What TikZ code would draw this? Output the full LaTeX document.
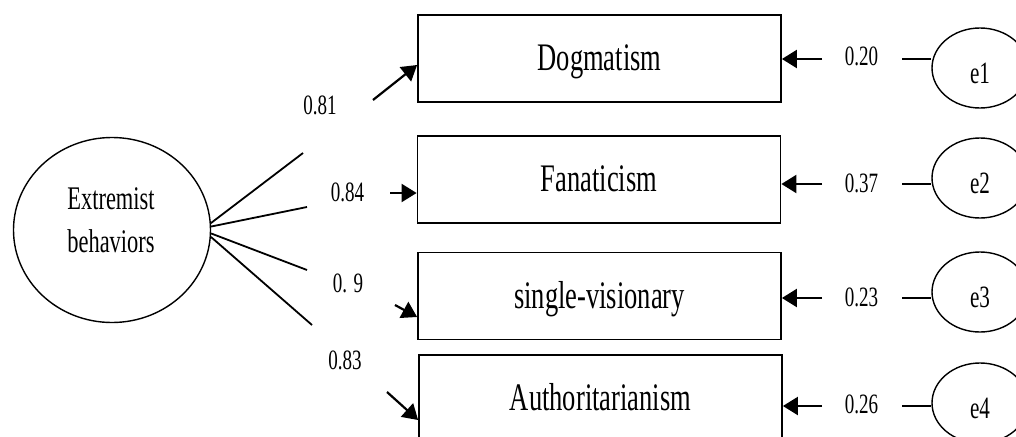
\documentclass[tikz,border=0pt]{standalone}
\usepackage{fontspec}
\setmainfont[FakeStretch=0.68]{Liberation Serif}
\usetikzlibrary{arrows.meta,shapes.geometric}

\begin{document}
\begin{tikzpicture}[x=1pt, y=-1pt,
        box/.style={draw, line width=1.8pt, minimum width=363pt, minimum height=87pt, inner sep=0pt, text height=29pt, text depth=5pt, font=\fontsize{39}{44}\selectfont},
        err/.style={draw, ellipse, line width=1.4pt, minimum width=96pt, minimum height=80pt, inner sep=0pt, text height=31pt, text depth=0pt, font=\fontsize{31}{34}\selectfont},
        num/.style={font=\fontsize{28}{32}\selectfont},
        arr/.style={line width=2.2pt, -{Triangle[length=15pt, width=18pt]}}]
        \useasboundingbox (0,0) rectangle (1016,436);
        \clip (0,0) rectangle (1016,436);
        \node[draw, ellipse, line width=1.4pt, minimum width=197pt, minimum height=185pt] (ext) at (112,230) {};
        \node[align=center, font=\fontsize{33}{43}\selectfont] (extlbl) at (111,220) {Extremist\\behaviors};
        \node[box] (dog) at (599.5,58.5) {Dogmatism};
        \node[box] (fan) at (599,179.5)  {Fanaticism};
        \node[box] (sin) at (599.5,296)  {single-visionary};
        \node[box] (aut) at (600.5,398.5) {Authoritarianism};
        \node[err] (e1) at (980,68)  {e1};
        \node[err] (e2) at (980,178) {e2};
        \node[err] (e3) at (980,292) {e3};
        \node[err] (e4) at (980,403) {e4};
        \coordinate (p1) at (303,153);
        \coordinate (p2) at (307,207);
        \coordinate (p3) at (307,270);
        \coordinate (p4) at (312,325);
        \draw[line width=1.8pt] (ext.4)  -- (p1);
        \draw[line width=1.8pt] (ext.2)  -- (p2);
        \draw[line width=1.8pt] (ext.-2) -- (p3);
        \draw[line width=1.8pt] (ext.-4) -- (p4);
        \node[num] (l1) at (320,105) {0.81};
        \node[num] (l2) at (347.5,192) {0.84};
        \node[num] (l3) at (348,283) {0. 9};
        \node[num] (l4) at (345,360) {0.83};
        \coordinate (a1) at (373,100);
        \coordinate (a2) at (390,193);
        \coordinate (a3) at (395,305);
        \coordinate (a4) at (387,392);
        \draw[arr] (a1) -- ([yshift=-6.5pt]dog.west);
        \draw[arr] (a2) -- (a2 -| fan.west);
        \draw[arr] (a3) -- ([yshift=-21pt]sin.west);
        \draw[arr] (a4) -- ([yshift=-21.5pt]aut.west);
        \coordinate (r1) at (822,59);
        \coordinate (r2) at (822,184);
        \coordinate (r3) at (822,298);
        \coordinate (r4) at (822,406);
        \draw[arr] (r1) -- (r1 -| dog.east);
        \draw[arr] (r2) -- (r2 -| fan.east);
        \draw[arr] (r3) -- (r3 -| sin.east);
        \draw[arr] (r4) -- (r4 -| aut.east);
        \node[num] (v1) at (861.5,56.5) {0.20};
        \node[num] (v2) at (861.5,183)  {0.37};
        \node[num] (v3) at (861.5,297.5) {0.23};
        \node[num] (v4) at (861.5,404)  {0.26};
        \coordinate (s1) at (902,59);
        \coordinate (s2) at (902,184);
        \coordinate (s3) at (902,298);
        \coordinate (s4) at (902,406);
        \draw[line width=2.2pt] (s1) -- (s1 -| e1.west);
        \draw[line width=2.2pt] (s2) -- (s2 -| e2.west);
        \draw[line width=2.2pt] (s3) -- (s3 -| e3.west);
        \draw[line width=2.2pt] (s4) -- (s4 -| e4.west);
    \end{tikzpicture}
\end{document}
